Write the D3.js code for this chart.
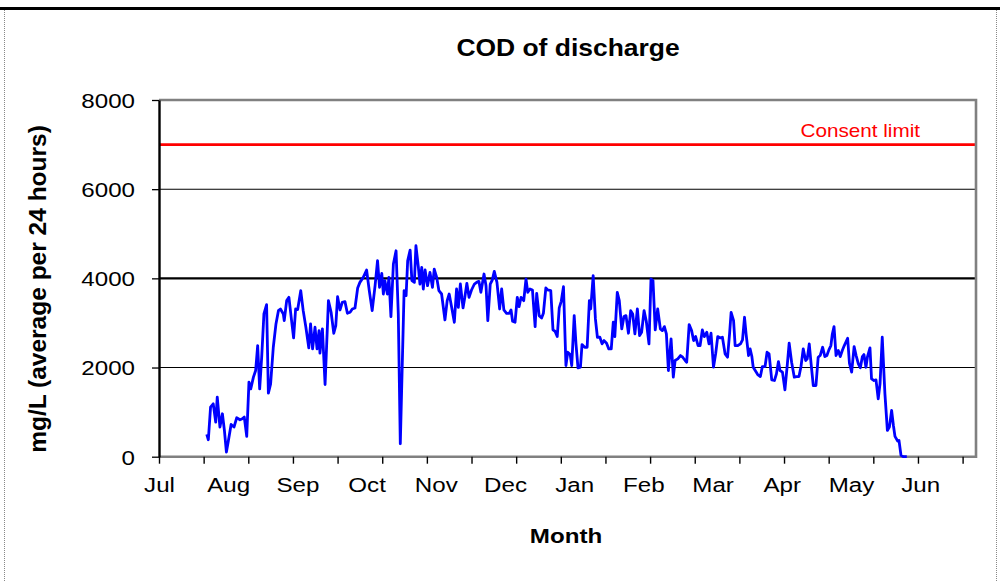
<!DOCTYPE html>
<html>
<head>
<meta charset="utf-8">
<script src="https://cdn.jsdelivr.net/npm/d3@7"></script>
<style>
  html, body { margin: 0; padding: 0; background: #fff; }
  svg { display: block; font-family: "Liberation Sans", Arial, sans-serif; }
</style>
</head>
<body>
<svg id="chart" width="1000" height="582"></svg>
<script>
// ---- data (day offset from 1 July, value mg/L) ----
const days = [
21.4,22.1,23.1,24.3,25.4,26.1,27.3,28.4,29.3,30.2,31.1,32.3,33.6,34.8,36.3,37.3,38.2,39.3,40.3,41.1,
42.3,43.3,44.2,45.1,46.0,47.0,48.2,49.0,50.0,51.2,52.4,53.5,54.4,55.7,56.1,57.2,58.2,59.3,60.3,61.2,
62.1,63.5,64.6,65.8,67.1,67.9,68.8,69.9,70.8,71.7,72.1,73.2,74.4,75.9,77.1,78.3,79.2,
80.0,81.1,82.1,83.3,84.4,85.6,86.6,87.8,89.0,90.0,91.5,93.0,94.2,95.5,96.8,97.9,98.8,99.8,100.5,101.2,
102.3,103.0,103.9,105.0,106.2,107.2,108.1,109.8,110.7,111.4,112.5,113.3,114.4,115.1,116.2,116.9,117.7,118.4,119.2,120.3,
121.4,122.5,123.3,124.4,125.4,126.6,128.1,129.1,130.0,131.1,132.3,133.3,134.1,135.0,136.2,137.0,137.9,138.9,140.0,141.3,
142.3,143.3,144.2,
145.6,146.5,147.3,148.4,149.3,150.2,151.4,152.6,153.5,154.5,155.7,156.9,157.7,158.4,159.5,160.5,161.3,162.2,163.4,164.4,
165.2,166.2,167.3,168.5,169.2,170.3,171.4,172.2,173.3,174.1,175.5,176.5,177.4,178.4,179.3,180.2,181.2,182.3,183.1,184.2,
184.9,186.0,186.8,187.7,188.8,189.5,190.7,191.8,192.8,193.4,194.5,195.5,196.4,197.5,198.5,199.4,200.5,201.5,202.6,203.5,204.2,
205.3,206.2,207.3,208.3,209.2,210.3,211.3,212.2,213.2,214.3,215.3,216.2,217.3,218.3,219.5,220.4,221.3,222.3,223.4,224.6,
225.5,226.4,227.3,228.2,229.4,230.4,231.2,232.4,233.6,234.6,235.7,236.4,237.5,238.6,239.5,240.4,241.5,242.4,243.4,244.3,
245.4,246.4,247.3,248.4,249.4,250.3,251.4,252.4,253.6,254.7,255.6,256.3,257.4,258.1,259.3,260.5,261.4,262.3,263.0,264.1,
264.8,265.6,266.2,
268.2,269.4,270.3,271.5,272.4,273.3,274.5,275.7,276.6,277.5,278.2,279.3,280.4,281.5,282.3,283.4,284.6,285.6,286.7,287.6,
288.6,289.7,290.4,291.3,292.1,293.1,294.3,295.3,296.2,297.3,298.3,299.2,300.1,301.0,301.6,302.4,303.3,304.3,305.2,306.1,
307.0,308.5,309.3,310.3,311.4,312.3,313.3,314.2,315.1,315.8,316.7,317.4,318.5,319.2,320.3,321.2,322.2,323.0,324.0,325.2,
326.3,327.2,328.2,329.0,329.7,330.9,331.5,332.4,333.5,335.0
];
const cod = [
500,380,1112,1186,776,1336,664,963,590,104,365,724,664,873,828,850,888,455,1672,1522,
1784,1933,2492,1522,2231,3201,3410,1425,1634,2455,2978,3276,3313,3201,3052,3500,3575,3090,2664,3313,
3298,3724,3276,2903,2440,2978,2418,2903,2418,2828,2321,2866,1619,3500,3239,2769,2940,
3590,3291,3463,3478,3216,3239,3313,3336,3784,3910,4022,4187,3724,3276,3836,4396,3799,4112,3649,3948,
3649,4022,3142,4321,4619,3201,291,3724,3612,4396,4634,3948,3910,4731,4246,3873,4246,3761,4187,3836,
4134,3799,4209,4022,3724,3649,3067,3500,3649,3351,3015,3761,3351,3873,3336,3575,3888,3575,3739,3873,
3910,3933,3687,
4097,3836,3052,3873,3963,4157,3910,3313,3761,3291,3216,3216,3291,3037,3015,3575,3366,3575,3500,3985,
3687,3761,3739,2918,3664,3164,3112,3216,3784,3739,3724,2843,2813,2694,3336,3485,3813,2045,2343,2291,
2045,3164,2530,1993,2007,2515,2455,2455,3500,3313,4060,3090,2679,2679,2530,2604,2545,2418,2418,3015,2694,
3687,3500,2866,3142,3164,2769,3276,3201,2754,3313,2716,2791,3276,3037,2530,3985,3948,2843,3313,2866,
2828,2918,2754,1933,2642,1784,2157,2194,2269,2231,2157,2119,2963,2828,2604,2694,2493,2493,2843,2694,
2791,2530,2769,2007,2321,2694,2664,2679,2306,2231,2754,3239,3052,2493,2493,2530,2619,3127,2754,2269,
2418,2246,2007,
1843,1798,2022,2022,2343,2306,1724,1709,1858,2134,1933,1896,1500,2082,2545,2119,1784,1798,1798,2022,
2418,2157,2194,2530,2097,1597,1597,2231,2269,2455,2246,2269,2396,2493,2739,2918,2269,2381,2246,2381,
2493,2657,2097,1896,2470,2269,2082,1993,2246,2291,2007,2246,2440,1746,1709,1724,1298,1634,2679,1410,
589,664,1037,701,455,351,365,30,0,0
];
const monthLabels = ["Jul","Aug","Sep","Oct","Nov","Dec","Jan","Feb","Mar","Apr","May","Jun"];
const monthLabelDays = [0,31,62,93,124,155,186,217,248,279,310,341];
const xTickDays = [0,20,40,60,80,100,120,140,160,180,200,220,240,260,280,300,320,340,360];
const yTicks = [0,2000,4000,6000,8000];
const gridValues = [2000,4000,6000];
const consentLimit = 7000;
const titleText = "COD of discharge";
const xTitle = "Month";
const yTitle = "mg/L (average per 24 hours)";
const limitLabel = "Consent limit";

// ---- layout ----
const svg = d3.select("#chart");
const L = 159, R = 976, T = 100, B = 456.7;
const SX = 1.15; // horizontal stretch of glyphs in the reference

const x = d3.scaleLinear().domain([0, 366]).range([L, R]);
const y = d3.scaleLinear().domain([0, 8000]).range([B, T]);

// outer frame
svg.append("line").attr("x1", 0).attr("x2", 1000).attr("y1", 8.5).attr("y2", 8.5)
  .attr("stroke", "#000").attr("stroke-width", 3);
svg.append("line").attr("x1", 4.5).attr("x2", 4.5).attr("y1", 10).attr("y2", 582)
  .attr("stroke", "#888").attr("stroke-width", 1).attr("stroke-dasharray", "1,1");
svg.append("line").attr("x1", 996.5).attr("x2", 996.5).attr("y1", 10).attr("y2", 582)
  .attr("stroke", "#888").attr("stroke-width", 1).attr("stroke-dasharray", "1,1");

function stretchedText(sel, tx, ty, txt, size, weight, anchor, fill) {
  return sel.append("text")
    .attr("transform", `translate(${tx},${ty}) scale(${SX},1)`)
    .attr("text-anchor", anchor)
    .attr("font-size", size)
    .attr("font-weight", weight)
    .attr("fill", fill)
    .text(txt);
}

// title
stretchedText(svg, 568, 56, titleText, 23, "bold", "middle", "#000");

// gridlines
svg.append("g").selectAll("line").data(gridValues).join("line")
  .attr("x1", L).attr("x2", R)
  .attr("y1", d => y(d)).attr("y2", d => y(d))
  .attr("stroke", "#000")
  .attr("stroke-width", d => d === 4000 ? 2.2 : 1.1);

// consent limit
svg.append("line").attr("x1", L).attr("x2", R)
  .attr("y1", y(consentLimit)).attr("y2", y(consentLimit))
  .attr("stroke", "#ff0000").attr("stroke-width", 2.8);
stretchedText(svg, 920, y(consentLimit) - 8, limitLabel, 18, "normal", "end", "#ff0000");

// plot border (gray) top / right / bottom
svg.append("path")
  .attr("d", `M${L},${T}H${R}V${B}H${L}`)
  .attr("fill", "none").attr("stroke", "#808080").attr("stroke-width", 2.6);

// data line
const line = d3.line().x((d, i) => x(days[i])).y(d => y(d));
svg.append("path").datum(cod)
  .attr("d", line)
  .attr("fill", "none").attr("stroke", "#0000ff").attr("stroke-width", 2.8)
  .attr("stroke-linejoin", "round");

// y axis
const yAxis = svg.append("g").attr("transform", `translate(${L},0)`)
  .call(d3.axisLeft(y).tickValues(yTicks).tickSize(7).tickSizeOuter(0).tickFormat(d3.format("d")));
yAxis.select(".domain").attr("stroke", "#000").attr("stroke-width", 2.4);
yAxis.selectAll(".tick line").attr("stroke", "#000").attr("stroke-width", 1.3);
yAxis.selectAll(".tick text")
  .attr("x", -24 / SX).attr("dy", "0.35em")
  .attr("transform", `scale(${SX},1)`)
  .attr("font-size", 21).attr("fill", "#000")
  .attr("font-family", "Liberation Sans, Arial, sans-serif");

// x axis ticks (every 20 days)
const xAxis = svg.append("g").attr("transform", `translate(0,${B})`)
  .call(d3.axisBottom(x).tickValues(xTickDays).tickSize(7).tickSizeOuter(0).tickFormat(""));
xAxis.select(".domain").remove();
xAxis.selectAll(".tick line").attr("stroke", "#000").attr("stroke-width", 1.4);

// x month labels
const xLab = svg.append("g").attr("transform", `translate(0,${B})`)
  .call(d3.axisBottom(x).tickValues(monthLabelDays).tickSize(0)
    .tickFormat((d, i) => monthLabels[i]));
xLab.select(".domain").remove();
xLab.selectAll(".tick text")
  .attr("x", 0).attr("y", 20.5).attr("dy", "0.71em")
  .attr("transform", `scale(${SX},1)`)
  .attr("font-size", 21).attr("fill", "#000")
  .attr("font-family", "Liberation Sans, Arial, sans-serif");

// axis titles
stretchedText(svg, 566, 543, xTitle, 21, "bold", "middle", "#000");
svg.append("text")
  .attr("transform", `translate(46,289) rotate(-90)`)
  .attr("text-anchor", "middle")
  .attr("font-size", 24.5)
  .attr("font-weight", "bold")
  .text(yTitle);
</script>
</body>
</html>
